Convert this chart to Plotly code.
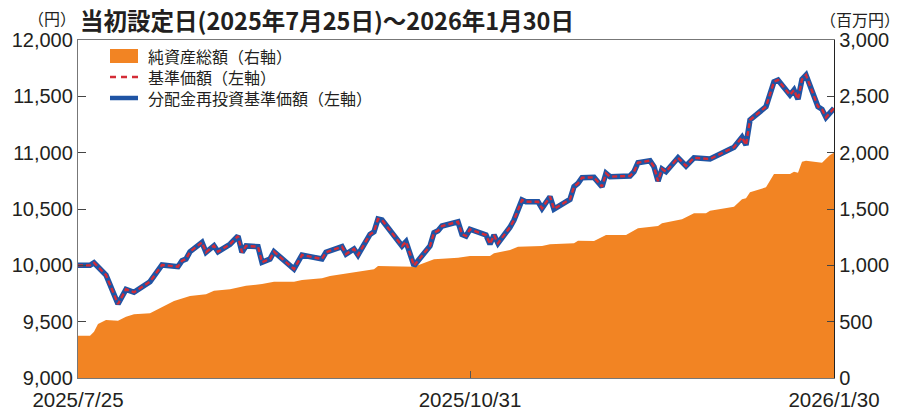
import plotly.graph_objects as go

# ---- data ----
nav_dates = [
    "2025-07-25", "2025-07-28", "2025-07-29", "2025-08-01", "2025-08-04", "2025-08-06",
    "2025-08-08", "2025-08-12", "2025-08-15", "2025-08-19", "2025-08-20", "2025-08-21",
    "2025-08-22", "2025-08-25", "2025-08-26", "2025-08-28", "2025-08-29", "2025-09-01",
    "2025-09-03", "2025-09-04", "2025-09-05", "2025-09-08", "2025-09-09", "2025-09-11",
    "2025-09-12", "2025-09-17", "2025-09-19", "2025-09-24", "2025-09-25", "2025-09-26",
    "2025-09-29", "2025-09-30", "2025-10-02", "2025-10-03", "2025-10-06", "2025-10-07",
    "2025-10-08", "2025-10-09", "2025-10-14", "2025-10-15", "2025-10-17", "2025-10-21",
    "2025-10-22", "2025-10-23", "2025-10-24", "2025-10-28", "2025-10-29", "2025-10-30",
    "2025-10-31", "2025-11-04", "2025-11-05", "2025-11-06", "2025-11-07", "2025-11-10",
    "2025-11-11", "2025-11-13", "2025-11-14", "2025-11-17", "2025-11-18", "2025-11-20",
    "2025-11-21", "2025-11-25", "2025-11-26", "2025-11-27", "2025-11-28", "2025-12-01",
    "2025-12-03", "2025-12-04", "2025-12-05", "2025-12-10", "2025-12-11", "2025-12-12",
    "2025-12-15", "2025-12-16", "2025-12-17", "2025-12-18", "2025-12-19", "2025-12-22",
    "2025-12-24", "2025-12-26", "2025-12-30", "2026-01-05", "2026-01-07", "2026-01-08",
    "2026-01-09", "2026-01-13", "2026-01-15", "2026-01-16", "2026-01-19", "2026-01-20",
    "2026-01-21", "2026-01-22", "2026-01-23", "2026-01-26", "2026-01-27", "2026-01-28",
    "2026-01-30",
]
nav = [
    10000, 10000, 10023, 9914, 9657, 9787,
    9761, 9855, 10003, 9988, 10041, 10056,
    10121, 10204, 10116, 10174, 10121, 10187,
    10260, 10116, 10172, 10166, 10027, 10056,
    10121, 9967, 10092, 10056, 10116, 10127,
    10166, 10100, 10145, 10092, 10275, 10298,
    10411, 10402, 10172, 10210, 9997, 10172,
    10290, 10307, 10349, 10387, 10275, 10260,
    10320, 10269, 10189, 10269, 10196, 10338,
    10402, 10580, 10565, 10565, 10506, 10609,
    10500, 10586, 10698, 10728, 10778, 10781,
    10698, 10817, 10787, 10793, 10831, 10911,
    10929, 10875, 10748, 10855, 10831, 10955,
    10882, 10955, 10944, 11048, 11136, 11068,
    11290, 11408, 11630, 11645, 11512, 11556,
    11474, 11651, 11689, 11408, 11385, 11314,
    11394,
]
# 分配金再投資基準価額 (no distributions -> same as 基準価額)
nav_reinvested = list(nav)

aum_dates = [
    "2025-07-25", "2025-07-28", "2025-07-29", "2025-07-30", "2025-08-01", "2025-08-04",
    "2025-08-06", "2025-08-08", "2025-08-12", "2025-08-15", "2025-08-18", "2025-08-22",
    "2025-08-26", "2025-08-28", "2025-09-01", "2025-09-05", "2025-09-09", "2025-09-12",
    "2025-09-17", "2025-09-19", "2025-09-24", "2025-09-26", "2025-09-30", "2025-10-07",
    "2025-10-08", "2025-10-10", "2025-10-17", "2025-10-22", "2025-10-28", "2025-10-31",
    "2025-11-05", "2025-11-06", "2025-11-10", "2025-11-12", "2025-11-18", "2025-11-20",
    "2025-11-26", "2025-11-27", "2025-12-01", "2025-12-04", "2025-12-09", "2025-12-12",
    "2025-12-17", "2025-12-18", "2025-12-23", "2025-12-26", "2025-12-29", "2025-12-30",
    "2026-01-05", "2026-01-07", "2026-01-08", "2026-01-09", "2026-01-13", "2026-01-15",
    "2026-01-19", "2026-01-20", "2026-01-21", "2026-01-22", "2026-01-23", "2026-01-27",
    "2026-01-29", "2026-01-30",
]
aum = [
    375, 375, 411, 479, 515, 509,
    544, 565, 574, 627, 683, 728,
    743, 775, 787, 819, 834, 855,
    855, 870, 885, 905, 929, 965,
    994, 994, 988, 1054, 1068, 1083,
    1083, 1107, 1136, 1165, 1172, 1187,
    1196, 1219, 1216, 1269, 1269, 1329,
    1349, 1373, 1409, 1462, 1462, 1485,
    1520, 1586, 1595, 1648, 1693, 1811,
    1811, 1831, 1822, 1920, 1929, 1911,
    1979, 2000,
]

x_tick_vals = ["2025-07-25", "2025-10-31", "2026-01-30"]
x_tick_text = ["2025/7/25", "2025/10/31", "2026/1/30"]
left_ticks = [9000, 9500, 10000, 10500, 11000, 11500, 12000]
right_ticks = [0, 500, 1000, 1500, 2000, 2500, 3000]

legend_labels = ["純資産総額（右軸）", "基準価額（左軸）", "分配金再投資基準価額（左軸）"]
title_text = "当初設定日(2025年7月25日)～2026年1月30日"

# ---- styling ----
ORANGE = "#F28423"
BLUE = "#1F54A4"
RED = "#D42C37"
TXT = "#231F20"
NUM_FONT = "Liberation Sans, Arial, sans-serif"
JP_FONT = "Noto Sans CJK JP, sans-serif"

W, H = 903, 412
L, R, T, B = 78, 69, 40, 34
PW, PH = W - L - R, H - T - B


def px(xpix):
    return (xpix - L) / PW


def py(ypix):
    return (H - B - ypix) / PH


fig = go.Figure()
fig.add_trace(go.Scatter(
    x=aum_dates, y=aum, name=legend_labels[0], mode="lines",
    line=dict(width=0, color=ORANGE), fill="tozeroy", fillcolor=ORANGE,
    yaxis="y", showlegend=False, hoverinfo="skip"))
fig.add_trace(go.Scatter(
    x=nav_dates, y=nav_reinvested, name=legend_labels[2], mode="lines",
    line=dict(width=5.5, color=BLUE), yaxis="y2", showlegend=False))
fig.add_trace(go.Scatter(
    x=nav_dates, y=nav, name=legend_labels[1], mode="lines",
    line=dict(width=2.4, color=RED, dash="5px,3px"), yaxis="y2", showlegend=False))

fig.update_layout(
    width=W, height=H,
    margin=dict(l=L, r=R, t=T, b=B, pad=0, autoexpand=False),
    paper_bgcolor="white", plot_bgcolor="white",
    showlegend=False,
    xaxis=dict(
        type="date", range=["2025-07-25", "2026-01-30"], automargin=False,
        tickmode="array", tickvals=x_tick_vals, ticktext=x_tick_text,
        ticks="inside", ticklen=7, tickwidth=1, tickcolor="#555",
        ticklabelstandoff=3,
        showline=True, linecolor="#777", linewidth=1.3, mirror=True,
        showgrid=False, zeroline=False,
        tickfont=dict(family=NUM_FONT, size=20.5, color=TXT),
    ),
    yaxis=dict(
        side="right", range=[0, 3000], tickmode="array", tickvals=right_ticks,
        automargin=False,
        tickformat=",", ticks="inside", ticklen=7, tickwidth=1.3, tickcolor="#444",
        showline=True, linecolor="#222", linewidth=1.3,
        showgrid=False, zeroline=False,
        tickfont=dict(family=NUM_FONT, size=20, color=TXT),
    ),
    yaxis2=dict(
        side="left", overlaying="y", range=[9000, 12000], tickmode="array",
        automargin=False,
        tickvals=left_ticks, tickformat=",", ticks="inside", ticklen=8,
        tickwidth=1.3, tickcolor="#444",
        showline=True, linecolor="#777", linewidth=1.3,
        showgrid=False, zeroline=False,
        tickfont=dict(family=NUM_FONT, size=20, color=TXT),
    ),
)

annotations = [
    dict(text=title_text, x=px(78), y=py(20), xanchor="left", yanchor="middle",
         font=dict(family=JP_FONT, size=23.5, color=TXT, weight="bold")),
    dict(text="（円）", x=px(52), y=py(18), xanchor="center", yanchor="middle",
         height=19, font=dict(family=JP_FONT, size=16, color=TXT)),
    dict(text="（百万円）", x=px(902), y=py(19), xanchor="right", yanchor="middle",
         font=dict(family=JP_FONT, size=16, color=TXT)),
]
legend_y = [56, 77, 98]
for lab, yy in zip(legend_labels, legend_y):
    annotations.append(dict(text=lab, x=px(146), y=py(yy), xanchor="left",
                            yanchor="middle", height=20,
                            font=dict(family=JP_FONT, size=16, color=TXT)))
for a in annotations:
    a.update(xref="paper", yref="paper", showarrow=False)
fig.update_layout(annotations=annotations)

shapes = [
    dict(type="rect", x0=px(110), x1=px(138), y0=py(63), y1=py(49),
         fillcolor=ORANGE, line=dict(width=0)),
    dict(type="line", x0=px(110), x1=px(138), y0=py(77), y1=py(77),
         line=dict(color=RED, width=2.4, dash="6px,5px")),
    dict(type="line", x0=px(110), x1=px(138), y0=py(98), y1=py(98),
         line=dict(color=BLUE, width=4.5)),
]
for s in shapes:
    s.update(xref="paper", yref="paper")
fig.update_layout(shapes=shapes)

fig.write_html("out.html")
